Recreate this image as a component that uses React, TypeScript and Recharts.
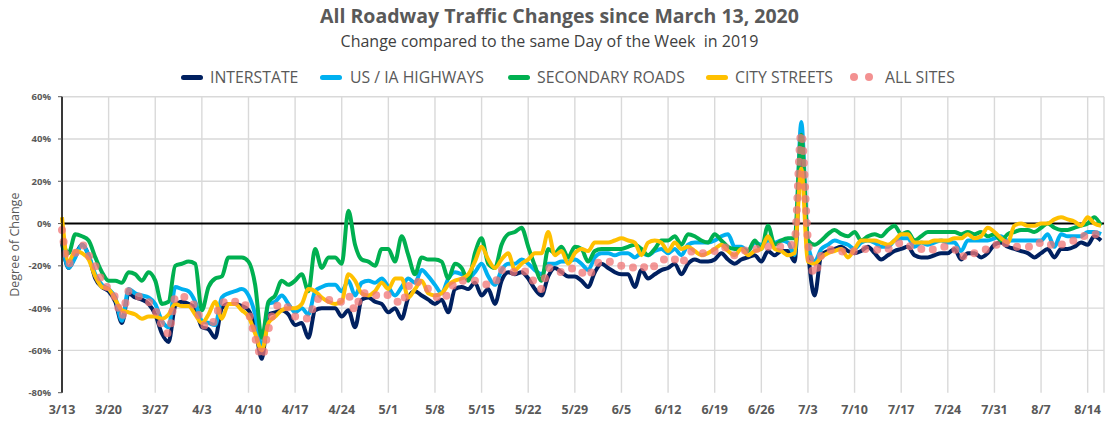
import React from 'react';
import { LineChart, Line, XAxis, YAxis, CartesianGrid, ReferenceLine } from 'recharts';

// Daily categories: 3/13/2020 .. 8/16/2020
const dates: string[] = [];
for (let i = 0; i < 157; i++) {
  const d = new Date(2020, 2, 13 + i);
  dates.push(`${d.getMonth() + 1}/${d.getDate()}`);
}

const tickLabels = ['3/13', '3/20', '3/27', '4/3', '4/10', '4/17', '4/24', '5/1', '5/8', '5/15', '5/22', '5/29', '6/5', '6/12', '6/19', '6/26', '7/3', '7/10', '7/17', '7/24', '7/31', '8/7', '8/14'];
const yTicks = [60, 40, 20, 0, -20, -40, -60, -80];
const gridY = [60, 40, 20, -20, -40, -60];

const interstate = [
  -9, -21, -15, -10, -15, -26, -30, -32, -37, -47,
  -33, -35, -36, -38, -43, -52, -56, -39, -37, -38,
  -40, -49, -50, -54, -40, -38, -38, -39, -41, -49,
  -64, -43, -42, -41, -43, -48, -47, -54, -41, -40,
  -40, -40, -44, -41, -49, -36, -35, -37, -38, -42,
  -40, -45, -35, -32, -34, -36, -38, -36, -42, -31,
  -30, -31, -28, -34, -31, -38, -27, -23, -24, -23,
  -26, -31, -34, -25, -21, -23, -25, -25, -27, -30,
  -23, -19, -21, -23, -24, -24, -30, -22, -26, -24,
  -22, -21, -19, -24, -19, -17, -18, -18, -17, -14,
  -17, -19, -17, -16, -15, -18, -13, -15, -13, -13,
  -18, 36, -12, -34, -15, -13, -12, -11, -13, -14,
  -13, -11, -14, -17, -15, -13, -12, -11, -15, -16,
  -16, -15, -14, -14, -12, -17, -14, -14, -16, -14,
  -10, -9, -11, -12, -13, -14, -16, -14, -12, -16,
  -12, -12, -11, -9, -10, -6, -8,
];

const usHighways = [
  -8, -21, -16, -10, -15, -24, -29, -31, -35, -46,
  -31, -33, -34, -35, -38, -46, -49, -30, -31, -32,
  -37, -46, -47, -48, -35, -33, -32, -31, -34, -43,
  -59, -38, -37, -34, -38, -42, -40, -43, -32, -30,
  -29, -29, -32, -27, -34, -28, -27, -28, -26, -30,
  -34, -30, -26, -28, -22, -25, -29, -33, -26, -23,
  -24, -26, -23, -19, -25, -29, -22, -19, -19, -17,
  -19, -22, -24, -19, -19, -18, -18, -17, -19, -22,
  -16, -14, -14, -15, -14, -14, -16, -14, -15, -13,
  -12, -14, -12, -15, -10, -9, -9, -9, -8, -6,
  -5, -11, -11, -13, -9, -10, -8, -9, -8, -9,
  -15, 48, -10, -18, -12, -10, -8, -9, -10, -12,
  -9, -8, -9, -11, -11, -8, -7, -7, -11, -9,
  -10, -9, -8, -9, -9, -13, -8, -8, -8, -8,
  -7, -6, -8, -8, -8, -8, -8, -8, -5, -11,
  -5, -6, -6, -6, -4, -4, -5,
];

const secondaryRoads = [
  -8, -14, -5, -6, -8, -16, -23, -27, -27, -28,
  -23, -24, -27, -23, -27, -38, -37, -20, -19, -18,
  -19, -41, -30, -26, -25, -16, -16, -16, -18, -29,
  -54, -37, -34, -27, -29, -27, -24, -32, -12, -21,
  -16, -16, -19, 6, -10, -17, -18, -20, -12, -12,
  -18, -6, -15, -24, -16, -17, -17, -18, -26, -19,
  -21, -27, -14, -7, -19, -21, -10, -5, -4, -2,
  -11, -20, -27, -12, -14, -11, -16, -11, -12, -18,
  -13, -12, -12, -12, -12, -11, -10, -12, -15, -12,
  -8, -8, -6, -10, -5, -6, -8, -9, -5, -8,
  -11, -12, -12, -13, -8, -12, -1, -10, -8, -7,
  -7, 42, -8, -10, -8, -5, -3, -5, -6, -4,
  -8, -6, -5, -6, -3, -1, -5, -4, -8, -6,
  -4, -4, -4, -4, -4, -5, -4, -5, -4, -6,
  -5, -8, -5, -4, -3, -3, -4, -2, 0, -2,
  -3, -3, -2, -1, 0, 3, -1,
];

const cityStreets = [
  3, -18, -13, -14, -17, -25, -30, -31, -36, -41,
  -42, -43, -45, -44, -44, -45, -43, -38, -39, -39,
  -43, -47, -43, -37, -45, -38, -38, -41, -44, -52,
  -60, -47, -44, -41, -40, -40, -38, -31, -32, -35,
  -37, -38, -37, -24, -27, -33, -34, -32, -28, -31,
  -26, -26, -35, -31, -27, -33, -34, -33, -29, -27,
  -26, -24, -18, -11, -17, -21, -17, -14, -22, -19,
  -17, -14, -14, -4, -15, -13, -19, -14, -12, -13,
  -9, -9, -9, -8, -7, -8, -9, -15, -9, -8,
  -9, -13, -9, -12, -11, -13, -15, -14, -12, -10,
  -13, -15, -12, -15, -13, -12, -6, -12, -13, -15,
  -14, 26, -18, -19, -16, -14, -13, -12, -16, -12,
  -8, -8, -8, -9, -10, -8, -5, -5, -9, -9,
  -9, -8, -8, -8, -7, -7, -5, -7, -6, -2,
  -4, -7, -9, -1, 0, -1, -1, 0, 0, 2,
  3, 2, 1, -1, 3, 0, -1,
];

const allSites = [
  -3, -19, -14, -10, -15, -20, -27, -31, -35, -44,
  -32, -34, -35, -37, -41, -48, -52, -35, -34, -37,
  -39, -47, -49, -45, -37, -38, -37, -37, -42, -54,
  -63, -50, -40, -38, -40, -44, -44, -45, -37, -35,
  -36, -37, -37, -34, -41, -33, -33, -34, -33, -34,
  -36, -38, -30, -27, -29, -31, -34, -36, -33, -28,
  -27, -27, -27, -28, -29, -28, -22, -22, -23, -22,
  -24, -28, -31, -21, -22, -23, -22, -21, -23, -25,
  -20, -18, -18, -19, -20, -20, -21, -20, -22, -20,
  -18, -16, -17, -19, -14, -13, -14, -14, -13, -11,
  -12, -15, -14, -12, -12, -12, -11, -11, -11, -11,
  -8, 43, -8, -24, -15, -13, -12, -13, -14, -13,
  -12, -12, -12, -13, -12, -11, -9, -10, -12, -12,
  -13, -12, -11, -11, -12, -16, -14, -14, -13, -12,
  -11, -8, -10, -11, -11, -11, -11, -9, -9, -11,
  -10, -9, -8, -7, -5, -5, -6,
];

const data = dates.map((date, i) => ({
  date,
  interstate: interstate[i],
  us: usHighways[i],
  secondary: secondaryRoads[i],
  city: cityStreets[i],
  all: allSites[i],
}));

const FONT = '"Open Sans", "Noto Sans", sans-serif';
const GREY = '#595959';

const legendItems = [
  { label: 'INTERSTATE', color: '#002060', sw: 181, tx: 210 },
  { label: 'US / IA HIGHWAYS', color: '#00B0F0', sw: 320, tx: 350 },
  { label: 'SECONDARY ROADS', color: '#00B050', sw: 508, tx: 537 },
  { label: 'CITY STREETS', color: '#FFC000', sw: 706, tx: 735 },
];

export default function App() {
  return (
    <div style={{ position: 'absolute', left: 0, top: 0, width: 1107, height: 423, background: '#fff', fontFamily: FONT }}>
      <div style={{ position: 'absolute', top: 3, left: 6, width: 1107, textAlign: 'center', fontSize: 19.5, fontWeight: 700, color: GREY, lineHeight: '26px' }}>
        All Roadway Traffic Changes since March 13, 2020
      </div>
      <div style={{ position: 'absolute', top: 30, left: -4, width: 1107, textAlign: 'center', fontSize: 16, color: '#404040', lineHeight: '22px' }}>
        Change compared to the same Day of the Week&nbsp; in 2019
      </div>
      {legendItems.map((it) => (
        <React.Fragment key={it.label}>
          <div style={{ position: 'absolute', left: it.sw, top: 74.5, width: 22, height: 5, borderRadius: 3, background: it.color }} />
          <div style={{ position: 'absolute', left: it.tx, top: 66, fontSize: 15.8, color: GREY, lineHeight: '22px', whiteSpace: 'nowrap' }}>{it.label}</div>
        </React.Fragment>
      ))}
      <div style={{ position: 'absolute', left: 850, top: 73, width: 8, height: 8, borderRadius: 4, background: '#F07575', opacity: 0.8 }} />
      <div style={{ position: 'absolute', left: 865, top: 73, width: 8, height: 8, borderRadius: 4, background: '#F07575', opacity: 0.8 }} />
      <div style={{ position: 'absolute', left: 885, top: 66, fontSize: 15.8, color: GREY, lineHeight: '22px', whiteSpace: 'nowrap' }}>ALL SITES</div>

      <div style={{ position: 'absolute', left: 0, top: 0 }}>
        <LineChart width={1107} height={423} data={data} margin={{ top: 96.7, right: 3, bottom: 5, left: 0 }}>
          <CartesianGrid stroke="#D9D9D9" strokeWidth={1.4} horizontalValues={gridY} />
          <XAxis
            dataKey="date"
            type="category"
            ticks={tickLabels}
            interval={0}
            axisLine={false}
            tickLine={false}
            height={25.3}
            padding={{ left: 0, right: 3 }}
            tickMargin={6}
            tick={{ fill: GREY, fontSize: 12.5, fontWeight: 700, fontFamily: FONT }}
          />
          <YAxis
            type="number"
            domain={[-80, 60]}
            ticks={yTicks}
            interval={0}
            width={62}
            tickFormatter={(v: number) => `${v}%`}
            axisLine={{ stroke: '#000', strokeWidth: 1.5 }}
            tickLine={{ stroke: GREY }}
            tickSize={4}
            tickMargin={7}
            tick={{ fill: GREY, fontSize: 9.5, fontWeight: 700, fontFamily: FONT }}
            label={{ value: 'Degree of Change', angle: -90, position: 'insideLeft', offset: 15, style: { textAnchor: 'middle', fill: GREY, fontSize: 12.5, fontFamily: FONT } }}
          />
          <ReferenceLine y={0} stroke="#000" strokeWidth={2} />
          <Line type="monotone" dataKey="interstate" stroke="#002060" strokeWidth={4} dot={false} strokeLinejoin="round" isAnimationActive={false} />
          <Line type="monotone" dataKey="us" stroke="#00B0F0" strokeWidth={4} dot={false} strokeLinejoin="round" isAnimationActive={false} />
          <Line type="monotone" dataKey="secondary" stroke="#00B050" strokeWidth={4} dot={false} strokeLinejoin="round" isAnimationActive={false} />
          <Line type="monotone" dataKey="city" stroke="#FFC000" strokeWidth={4} dot={false} strokeLinejoin="round" isAnimationActive={false} />
          <Line type="monotone" dataKey="all" stroke="#F07575" strokeOpacity={0.75} strokeWidth={8} strokeDasharray="0 12" strokeLinecap="round" dot={false} isAnimationActive={false} />
        </LineChart>
      </div>
    </div>
  );
}
